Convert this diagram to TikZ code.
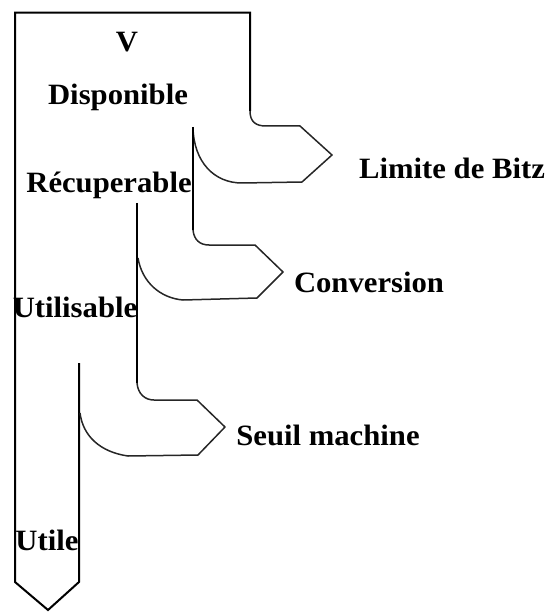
\documentclass[tikz,border=0pt]{standalone}
\usepackage{fontspec}
\setmainfont{Liberation Serif}
\newfontfamily\lblfont[FakeStretch=1.04]{Liberation Serif}
\begin{document}
\begin{tikzpicture}[x=1pt,y=-1pt,
  mainline/.style={line width=2pt,black,line join=miter},
  branch/.style={line width=1.5pt,black!85,line join=round},
  lbl/.style={inner sep=0pt,font=\lblfont\fontsize{29.5}{33}\selectfont\bfseries}]
\useasboundingbox (0,0) rectangle (547,612);
% outer stream
\draw[mainline] (79,363) -- (79,582) -- (48,610) -- (15,582) -- (15,12.7) -- (250,12.7) -- (250,111);
% branch 1 : Limite de Bitz
\draw[branch] (250,111) .. controls (250,122) and (256,126) .. (266,126) -- (300,126) -- (332,155) -- (302,182) -- (242,183)
  .. controls (214,183) and (194,162) .. (193,128);
% stream 2
\draw[mainline] (193,127) -- (193,230);
\draw[branch] (193,230) .. controls (194,240) and (200,245) .. (209,245) -- (255,245) -- (283,272) -- (257,298) -- (183,300)
  .. controls (160,298) and (142,282) .. (138,258);
% stream 3
\draw[mainline] (137,203) -- (137,383);
\draw[branch] (137,383) .. controls (138,394) and (145,400) .. (154,400) -- (197,400) -- (225,427) -- (198,455) -- (128,456)
  .. controls (100,452) and (83,436) .. (80,413);
% labels
\node[lbl] (v) at (127,42) {V};
\node[lbl] (disp) at (118,97) {Disponible};
\node[lbl] (recup) at (109,185) {Récuperable};
\node[lbl] (utilisable) at (75,307) {Utilisable};
\node[lbl] (utile) at (47,540) {Utile};
\node[lbl] (bitz) at (452,168) {Limite de Bitz};
\node[lbl] (conv) at (369,282) {Conversion};
\node[lbl] (seuil) at (328,435) {Seuil machine};
\end{tikzpicture}
\end{document}
